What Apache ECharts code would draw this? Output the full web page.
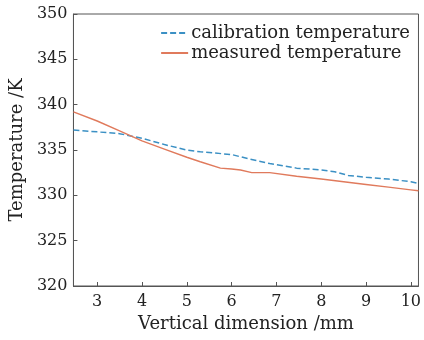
<!DOCTYPE html>
<html><head><meta charset="utf-8">
<script src="https://cdn.jsdelivr.net/npm/echarts@6/dist/echarts.min.js"></script>
<style>html,body{margin:0;padding:0;background:#fff}#c{width:424px;height:340px}</style>
</head><body><div id="c"></div>
<script>
const xCalibration = [2.47, 3, 3.5, 4, 4.5, 5, 5.3, 6, 6.4, 6.85, 7.45, 8, 8.3, 8.6, 9, 9.5, 10, 10.17];
const calibration = [337.2, 337.0, 336.8, 336.3, 335.6, 335.0, 334.8, 334.5, 334.0, 333.5, 333.0, 332.8, 332.6, 332.2, 332.0, 331.8, 331.5, 331.3];
const xMeasured = [2.47, 3, 3.5, 4, 4.5, 5, 5.3, 5.75, 6.0, 6.2, 6.45, 6.85, 7.45, 8, 8.5, 9, 9.5, 10, 10.17];
const measured = [339.2, 338.2, 337.1, 336.0, 335.1, 334.2, 333.7, 333.0, 332.9, 332.8, 332.5, 332.5, 332.1, 331.8, 331.5, 331.2, 330.9, 330.6, 330.5];
const xTicks = [3, 4, 5, 6, 7, 8, 9, 10];
const seriesNames = ['calibration temperature', 'measured temperature'];

const font = 'DejaVu Serif';
const chart = echarts.init(document.getElementById('c'), null, {renderer: 'canvas'});
chart.setOption({
  animation: false,
  backgroundColor: '#fff',
  grid: {left: 72, right: 5, top: 14, bottom: 54, show: true, borderColor: '#555', borderWidth: 1},
  legend: {
    data: seriesNames, orient: 'vertical', right: 9, top: 19, itemWidth: 27, itemHeight: 10, itemGap: 2,
    itemStyle: {opacity: 0},
    textStyle: {fontFamily: font, fontSize: 18, color: '#222', padding: [0, 0, 0, -2]}, backgroundColor: 'transparent'
  },
  xAxis: {
    type: 'value', min: 2.47, max: 10.17,
    name: 'Vertical dimension /mm', nameLocation: 'middle', nameGap: 28,
    nameTextStyle: {fontFamily: font, fontSize: 18, color: '#222'},
    axisLine: {lineStyle: {color: '#555'}},
    axisTick: {inside: true, length: 4, lineStyle: {color: '#555'}, customValues: xTicks},
    axisLabel: {fontFamily: font, fontSize: 16, color: '#222', margin: 8, customValues: xTicks},
    splitLine: {show: false}
  },
  yAxis: {
    type: 'value', min: 320, max: 350, interval: 5,
    name: 'Temperature /K', nameLocation: 'middle', nameGap: 45,
    nameTextStyle: {fontFamily: font, fontSize: 18, color: '#222'},
    axisLine: {show: true, lineStyle: {color: '#555'}},
    axisTick: {show: true, inside: true, length: 4, lineStyle: {color: '#555'}},
    axisLabel: {fontFamily: font, fontSize: 16, color: '#222', margin: 6},
    splitLine: {show: false}
  },
  series: [
    {name: seriesNames[0], type: 'line', symbol: 'none', smooth: false,
     data: xCalibration.map((x, i) => [x, calibration[i]]),
     lineStyle: {color: '#3b90c4', width: 1.5, type: [6, 3]}, itemStyle: {color: '#3b90c4'}},
    {name: seriesNames[1], type: 'line', symbol: 'none', smooth: false,
     data: xMeasured.map((x, i) => [x, measured[i]]),
     lineStyle: {color: '#e07a5c', width: 1.4}, itemStyle: {color: '#e07a5c'}}
  ]
});
</script></body></html>
